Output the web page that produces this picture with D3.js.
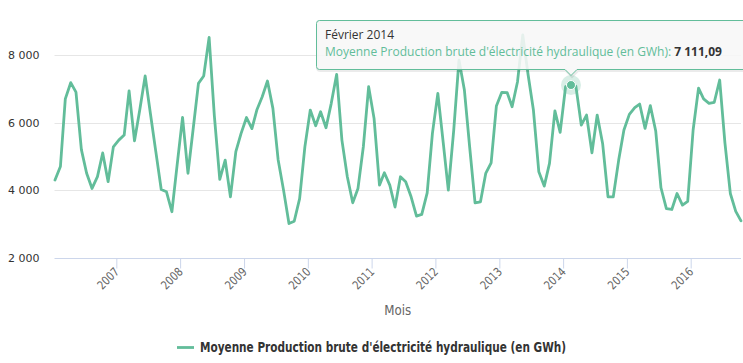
<!DOCTYPE html>
<html><head><meta charset="utf-8">
<script src="https://cdn.jsdelivr.net/npm/d3@7"></script>
<style>body{margin:0;background:#fff}svg{display:block}</style>
</head><body><svg id="c" width="743" height="363"></svg>
<script>
// ---- data ----
const firstMonth = [2006, 0];          // January 2006
const monthlyValues = [
  4300, 4700, 6700, 7180, 6900, 5200, 4500, 4050, 4400, 5100, 4250, 5280,
  5480, 5630, 6940, 5460, 6370, 7380, 6270, 5140, 4020, 3950, 3360, 4750,
  6150, 4500, 5780, 7160, 7380, 8520, 6200, 4320, 4890, 3800, 5140, 5680,
  6150, 5820, 6370, 6765, 7230, 6420, 4900, 4000, 3010, 3080, 3750, 5280,
  6370, 5906, 6321, 5847, 6568, 7427, 5481, 4395, 3625, 4050, 5300, 7061,
  6124, 4148, 4513, 4148, 3500, 4395, 4247, 3802, 3230, 3280, 3921, 5679,
  6864, 5400, 4000, 5778, 7850, 6963, 5284, 3625, 3654, 4494, 4809, 6489,
  6894, 6884, 6469, 7210, 8593, 7400, 6370, 4543, 4120, 4790, 6345, 5710,
  7061, 7111.09, 7080, 5926, 6222, 5106, 6222, 5383, 3802, 3802, 4889, 5778,
  6242, 6439, 6548, 5827, 6500, 5750, 4070, 3450, 3427, 3901, 3556, 3670,
  5780, 7020, 6700, 6568, 6600, 7259, 5400, 3901, 3370, 3091
];
const yearTicks = [2007, 2008, 2009, 2010, 2011, 2012, 2013, 2014, 2015, 2016];
const yTicks = [2000, 4000, 6000, 8000];
const seriesName = "Moyenne Production brute d'électricité hydraulique (en GWh)";
const xTitle = "Mois";
const highlighted = [2014, 1];        // Février 2014

// ---- build ----
const data = monthlyValues.map((v, i) => ({date: new Date(firstMonth[0], firstMonth[1] + i, 15), value: v}));
const fr = d3.formatLocale({decimal: ",", thousands: "\u00a0", grouping: [3], currency: ["", " €"]});
const frTime = d3.timeFormatLocale({
  dateTime: "%A %e %B %Y à %X", date: "%d/%m/%Y", time: "%H:%M:%S", periods: ["AM", "PM"],
  days: ["dimanche","lundi","mardi","mercredi","jeudi","vendredi","samedi"],
  shortDays: ["dim.","lun.","mar.","mer.","jeu.","ven.","sam."],
  months: ["janvier","février","mars","avril","mai","juin","juillet","août","septembre","octobre","novembre","décembre"],
  shortMonths: ["janv.","févr.","mars","avr.","mai","juin","juil.","août","sept.","oct.","nov.","déc."]
});

const plot = {left: 54.5, right: 741, top: 21.2, bottom: 257.7};
const svg = d3.select("#c");
const color = "#62bd9a";
const condensed = "'Liberation Sans Narrow','DejaVu Sans Condensed','Arial Narrow',sans-serif";

const x = d3.scaleTime().domain(d3.extent(data, d => d.date)).range([55, plot.right]);
const y = d3.scaleLinear().domain([2000, 9000]).range([plot.bottom, plot.top]);

// gridlines
svg.append("g").selectAll("line").data(yTicks.filter(t => t !== 2000)).join("line")
  .attr("x1", plot.left).attr("x2", plot.right)
  .attr("y1", d => Math.round(y(d)) + 0.5).attr("y2", d => Math.round(y(d)) + 0.5)
  .attr("stroke", "#e6e6e6").attr("stroke-width", 1);

// y labels
const yAxis = svg.append("g").attr("transform", `translate(${plot.left - 15},0)`)
  .call(d3.axisLeft(y).tickValues(yTicks).tickSize(0).tickFormat(fr.format(",")));
yAxis.select(".domain").remove();
yAxis.selectAll("text").attr("x", 0).attr("fill", "#333")
  .style("font-family", "'DejaVu Sans', Verdana, sans-serif").style("font-size", "11px");

// x axis
const xAxis = svg.append("g").attr("transform", `translate(0,${Math.round(plot.bottom) + 0.5})`)
  .call(d3.axisBottom(x).tickValues(yearTicks.map(yv => new Date(yv, 0, 1))).tickSize(10).tickSizeOuter(0)
    .tickFormat(d3.timeFormat("%Y")));
xAxis.select(".domain").attr("d", `M${plot.left},0H${plot.right}`).attr("stroke", "#ccd6eb");
xAxis.selectAll(".tick line").attr("stroke", "#ccd6eb");
xAxis.selectAll("text")
  .attr("fill", "#666")
  .style("font-family", condensed)
  .style("font-size", "12px")
  .attr("text-anchor", "end").attr("dy", null).attr("y", 0).attr("x", 0)
  .attr("textLength", 25).attr("lengthAdjust", "spacingAndGlyphs")
  .attr("transform", "translate(3,14) rotate(-45)");

// axis title
svg.append("text").attr("x", (plot.left + plot.right) / 2).attr("y", 315)
  .attr("text-anchor", "middle").attr("fill", "#666")
  .style("font-family", condensed).style("font-size", "14px")
  .attr("textLength", 27).attr("lengthAdjust", "spacingAndGlyphs")
  .text(xTitle);

// line
svg.append("path").datum(data)
  .attr("fill", "none").attr("stroke", color).attr("stroke-width", 2.8)
  .attr("stroke-linejoin", "round").attr("stroke-linecap", "round")
  .attr("d", d3.line().x(d => x(d.date)).y(d => y(d.value)));

// legend
const lg = svg.append("g");
lg.append("line").attr("x1", 177).attr("x2", 194).attr("y1", 347.5).attr("y2", 347.5)
  .attr("stroke", color).attr("stroke-width", 2.8);
lg.append("text").attr("x", 200).attr("y", 352).attr("fill", "#333")
  .style("font-family", condensed)
  .style("font-size", "14px").style("font-weight", "bold")
  .attr("textLength", 366).attr("lengthAdjust", "spacingAndGlyphs")
  .text(seriesName);

// highlighted point + tooltip
const hp = data.find(d => d.date.getFullYear() === highlighted[0] && d.date.getMonth() === highlighted[1]);
const px = x(hp.date), py = y(hp.value);
svg.append("circle").attr("cx", px).attr("cy", py).attr("r", 10).attr("fill", color).attr("opacity", 0.25);
svg.append("circle").attr("cx", px).attr("cy", py).attr("r", 4.5).attr("fill", color).attr("stroke", "#fff").attr("stroke-width", 1);

const tt = svg.append("g");
const bx = 316.5, by = 20.5, bw = 440, bh = 49, ax = px, ay = by + bh + 6;
const tpath = `M${bx + 3},${by}H${bx + bw}V${by + bh}H${ax + 6}L${ax},${ay}L${ax - 6},${by + bh}H${bx + 3}Q${bx},${by + bh} ${bx},${by + bh - 3}V${by + 3}Q${bx},${by} ${bx + 3},${by}Z`;
tt.append("path").attr("d", tpath).attr("transform", "translate(1,1)").attr("fill", "none")
  .attr("stroke", "#000").attr("stroke-opacity", 0.08).attr("stroke-width", 3);
tt.append("path").attr("d", tpath).attr("fill", "rgba(247,247,247,0.88)").attr("stroke", color).attr("stroke-width", 1);
const tf = "'Open Sans','DejaVu Sans',sans-serif";
const monthName = frTime.format("%B %Y")(hp.date);
tt.append("text").attr("x", 325).attr("y", 39).attr("fill", "#333").style("font-family", tf).style("font-size", "12px")
  .text(monthName.charAt(0).toUpperCase() + monthName.slice(1));
const t2 = tt.append("text").attr("x", 325).attr("y", 56).style("font-family", tf).style("font-size", "12px");
t2.append("tspan").attr("fill", color).text(seriesName + ": ");
t2.append("tspan").attr("fill", "#333").style("font-weight", "bold").text(fr.format(",.2f")(hp.value));
</script></body></html>
